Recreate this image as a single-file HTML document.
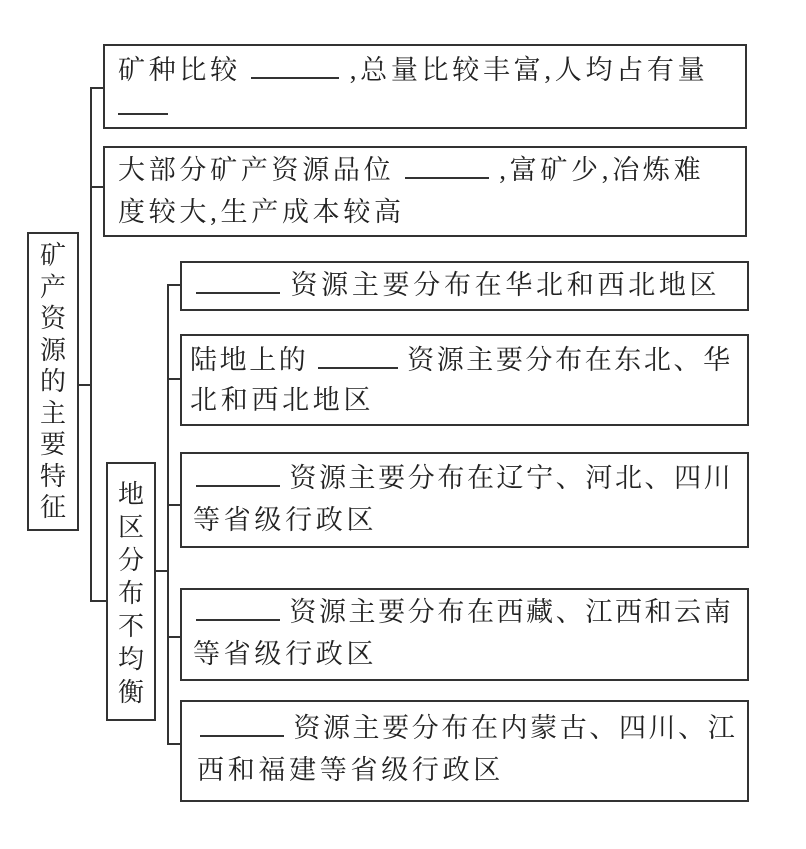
<!DOCTYPE html>
<html><head><meta charset="utf-8"><style>
body{margin:0;width:806px;height:849px;background:#fff;position:relative;overflow:hidden;font-family:"Liberation Serif","Noto Serif CJK SC",serif;color:#222}
.b{position:absolute;border:2px solid #333;box-sizing:border-box}
.l{position:absolute;background:#333}
.t{position:absolute;font-size:27px;line-height:40px;white-space:nowrap;letter-spacing:3.7px}
.s{letter-spacing:2.6px}
.u{display:inline-block;border-bottom:2px solid #333;height:22px;vertical-align:baseline}
.v{position:absolute;font-size:26px;width:30px;text-align:center;white-space:normal;word-break:break-all}
</style></head><body>
<div class="b" style="left:27px;top:232px;width:52px;height:299px"></div>
<div class="v" style="left:38px;top:240px;line-height:31.5px">矿产资源的主要特征</div>
<div class="b" style="left:103px;top:44px;width:644px;height:85px"></div>
<div class="t" style="left:118px;top:50px">矿种比较 <span class="u" style="width:88px"></span> ,总量比较丰富,人均占有量</div>
<div class="l" style="left:118px;top:113px;width:50px;height:2px"></div>
<div class="b" style="left:103px;top:146px;width:644px;height:91px"></div>
<div class="t" style="left:118px;top:150px">大部分矿产资源品位 <span class="u" style="width:84px"></span> ,富矿少,冶炼难</div>
<div class="t" style="left:118px;top:192px">度较大,生产成本较高</div>
<div class="b" style="left:106px;top:462px;width:50px;height:259px"></div>
<div class="v" style="left:116px;top:478px;line-height:33px">地区分布不均衡</div>
<div class="l" style="left:79px;top:384px;width:12px;height:2px"></div>
<div class="l" style="left:90px;top:87px;width:2px;height:515px"></div>
<div class="l" style="left:90px;top:87px;width:14px;height:2px"></div>
<div class="l" style="left:90px;top:186px;width:14px;height:2px"></div>
<div class="l" style="left:90px;top:600px;width:16px;height:2px"></div>
<div class="l" style="left:156px;top:570px;width:12px;height:2px"></div>
<div class="l" style="left:167px;top:284px;width:2px;height:461px"></div>
<div class="l" style="left:167px;top:284px;width:13px;height:2px"></div>
<div class="l" style="left:167px;top:378px;width:13px;height:2px"></div>
<div class="l" style="left:167px;top:504px;width:13px;height:2px"></div>
<div class="l" style="left:167px;top:636px;width:13px;height:2px"></div>
<div class="l" style="left:167px;top:743px;width:13px;height:2px"></div>
<div class="b" style="left:180px;top:261px;width:569px;height:50px"></div>
<div class="t" style="left:196px;top:265px"><span class="u" style="width:84px"></span> 资源主要分布在华北和西北地区</div>
<div class="b" style="left:180px;top:334px;width:569px;height:92px"></div>
<div class="t s" style="left:190px;top:340px">陆地上的 <span class="u" style="width:80px"></span> 资源主要分布在东北、华</div>
<div class="t" style="left:190px;top:380px">北和西北地区</div>
<div class="b" style="left:180px;top:452px;width:569px;height:96px"></div>
<div class="t s" style="left:196px;top:458px"><span class="u" style="width:84px"></span> 资源主要分布在辽宁、河北、四川</div>
<div class="t" style="left:193px;top:500px">等省级行政区</div>
<div class="b" style="left:180px;top:588px;width:569px;height:93px"></div>
<div class="t s" style="left:196px;top:592px"><span class="u" style="width:84px"></span> 资源主要分布在西藏、江西和云南</div>
<div class="t" style="left:193px;top:634px">等省级行政区</div>
<div class="b" style="left:180px;top:700px;width:569px;height:102px"></div>
<div class="t s" style="left:200px;top:708px"><span class="u" style="width:84px"></span> 资源主要分布在内蒙古、四川、江</div>
<div class="t" style="left:197px;top:750px">西和福建等省级行政区</div>
</body></html>
